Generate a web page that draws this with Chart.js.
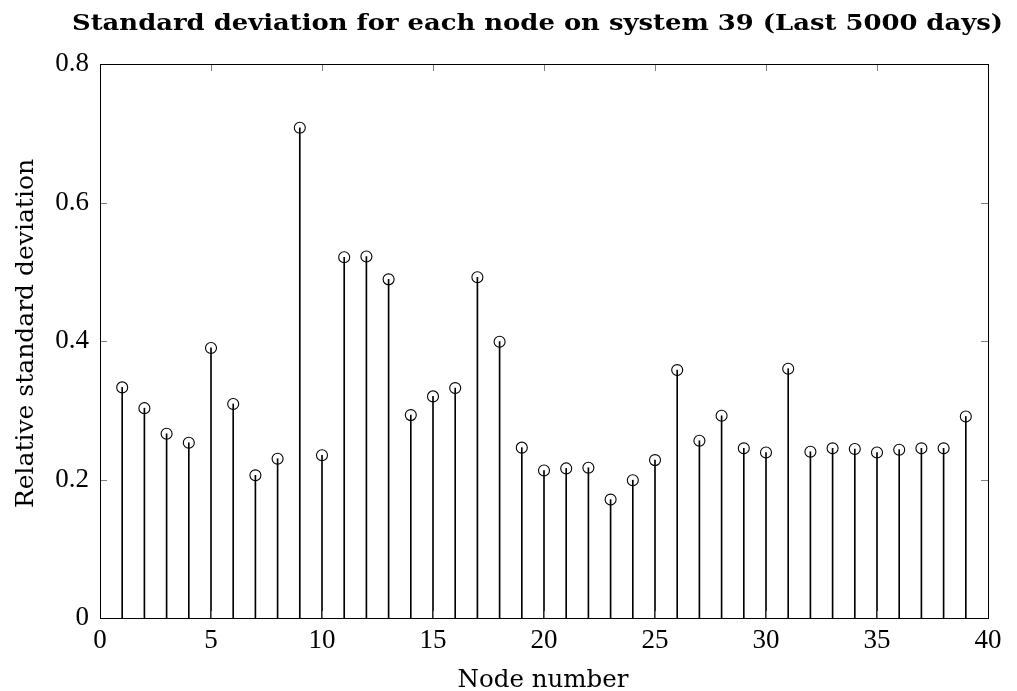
<!DOCTYPE html>
<html>
<head>
<meta charset="utf-8">
<script src="https://cdn.jsdelivr.net/npm/chart.js@4"></script>
<style>
  body { margin: 0; background: #fff; }
</style>
</head>
<body>
<canvas id="chart" width="1017" height="691"></canvas>
<script>
// node numbers and relative std deviation
var nodes = [1, 2, 3, 4, 5, 6, 7, 8, 9, 10, 11, 12, 13, 14, 15, 16, 17, 18, 19, 20,
	21, 22, 23, 24, 25, 26, 27, 28, 29, 30, 31, 32, 33, 34, 35, 36, 37, 38, 39];
var stdDev = [0.333, 0.303, 0.266, 0.253, 0.390, 0.309, 0.206, 0.230, 0.708, 0.235,
	0.521, 0.522, 0.489, 0.293, 0.320, 0.332, 0.492, 0.399, 0.246, 0.213,
	0.216, 0.217, 0.171, 0.199, 0.228, 0.358, 0.256, 0.292, 0.245, 0.239,
	0.360, 0.240, 0.245, 0.244, 0.239, 0.243, 0.245, 0.245, 0.291];
var xTicks = [0, 5, 10, 15, 20, 25, 30, 35, 40];
var yTicks = [0, 0.2, 0.4, 0.6, 0.8];

var titleText = 'Standard deviation for each node on system 39 (Last 5000 days)';
var xTitle = 'Node number';
var yTitle = 'Relative standard deviation';
var serif = '"DejaVu Serif", "Liberation Serif", serif';
var digits = '"Liberation Serif", "DejaVu Serif", serif';

var points = nodes.map((n, i) => ({x: n, y: stdDev[i]}));

// box round the plot, inward ticks on all four sides, title and axis titles
var framePlugin = {
	id: 'frame',
	afterDraw(chart) {
		var ctx = chart.ctx;
		var a = chart.chartArea;
		var xs = chart.scales.x, ys = chart.scales.y;
		ctx.save();
		ctx.strokeStyle = '#808080';
		ctx.lineWidth = 1;
		ctx.beginPath();
		xTicks.forEach((v) => {
			var px = Math.round(xs.getPixelForValue(v)) + 0.5;
			ctx.moveTo(px, a.bottom); ctx.lineTo(px, a.bottom - 7);
			ctx.moveTo(px, a.top); ctx.lineTo(px, a.top + 7);
		});
		yTicks.forEach((v) => {
			var py = Math.round(ys.getPixelForValue(v)) + 0.5;
			ctx.moveTo(a.left, py); ctx.lineTo(a.left + 7, py);
			ctx.moveTo(a.right, py); ctx.lineTo(a.right - 7, py);
		});
		ctx.stroke();
		ctx.strokeStyle = '#000';
		ctx.strokeRect(Math.round(a.left) + 0.5, Math.round(a.top) + 0.5,
			Math.round(a.right - a.left), Math.round(a.bottom - a.top));

		ctx.fillStyle = '#000';
		ctx.textAlign = 'center';
		ctx.textBaseline = 'alphabetic';

		// title, stretched to the width of the wide bold face in the picture
		ctx.font = 'bold 22px ' + serif;
		var w = ctx.measureText(titleText).width;
		ctx.save();
		ctx.translate(537.5, 30);
		ctx.scale(931 / w, 1);
		ctx.fillText(titleText, 0, 0);
		ctx.restore();

		ctx.font = '24.5px ' + serif;
		ctx.fillText(xTitle, 543, 687);

		ctx.font = '25px ' + serif;
		ctx.save();
		ctx.translate(33, 333.5);
		ctx.rotate(-Math.PI / 2);
		ctx.fillText(yTitle, 0, 0);
		ctx.restore();
		ctx.restore();
	}
};

var ctx = document.getElementById('chart').getContext('2d');
var mychart = new Chart(ctx, {
	data: {
		datasets: [{
			type: 'scatter',
			label: 'markers',
			data: points,
			pointStyle: 'circle',
			pointRadius: 5.5,
			pointHoverRadius: 5.5,
			borderColor: '#000',
			borderWidth: 1.1,
			backgroundColor: 'rgba(0,0,0,0)',
			order: 1
		}, {
			type: 'bar',
			label: 'stems',
			data: points,
			barThickness: 1,
			backgroundColor: '#000',
			borderWidth: 0,
			order: 2
		}]
	},
	options: {
		responsive: false,
		animation: false,
		layout: { padding: { top: 64, right: 29, left: 0, bottom: 0 } },
		plugins: {
			legend: { display: false },
			tooltip: { enabled: false },
			title: { display: false }
		},
		scales: {
			x: {
				type: 'linear',
				min: 0,
				max: 40,
				offset: false,
				grid: { display: false, drawTicks: false },
				border: { display: false },
				afterBuildTicks: (s) => { s.ticks = xTicks.map(v => ({value: v})); },
				afterFit: (s) => { s.height = 73; },
				ticks: {
					color: '#000',
					padding: 7,
					maxRotation: 0,
					font: { family: digits, size: 27, lineHeight: 1.2 }
				}
			},
			y: {
				min: 0,
				max: 0.8,
				grid: { display: false, drawTicks: false },
				border: { display: false },
				afterBuildTicks: (s) => { s.ticks = yTicks.map(v => ({value: v})); },
				afterFit: (s) => { s.width = 100; },
				ticks: {
					color: '#000',
					padding: 11,
					font: { family: digits, size: 27 }
				}
			}
		}
	},
	plugins: [framePlugin]
});
</script>
</body>
</html>
